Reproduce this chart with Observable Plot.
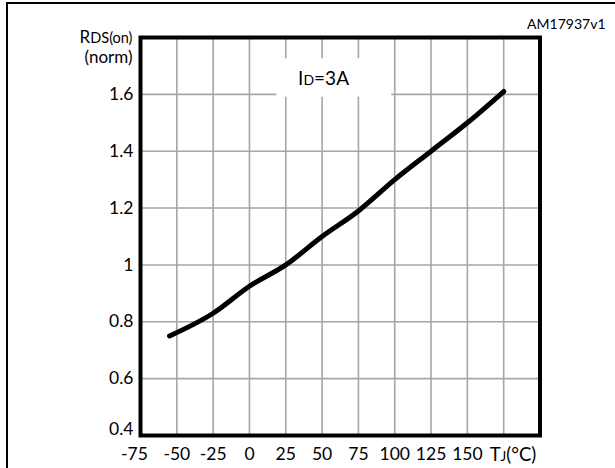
<!DOCTYPE html>
<html>
<head>
<meta charset="utf-8">
<script src="https://cdn.jsdelivr.net/npm/d3@7"></script>
<script src="https://cdn.jsdelivr.net/npm/@observablehq/plot@0.6"></script>
<style>
  html, body { margin: 0; padding: 0; background: #fff; }
  #wrap { position: relative; width: 615px; height: 468px; overflow: hidden; }
  #edge { position: absolute; left: 6px; top: 2px; right: -10px; bottom: -10px;
          border-left: 2px solid #000; border-top: 2px solid #000; pointer-events: none; }
  #wrap svg { position: absolute; left: 0; top: 0; overflow: visible; }
</style>
</head>
<body>
<div id="wrap"><div id="edge"></div></div>
<script>
// Normalized on-resistance vs junction temperature
const junctionTemp = [-55, -25, 0, 25, 50, 75, 100, 125, 150, 175];
const rdsOnNorm    = [0.75, 0.83, 0.925, 1.0, 1.1, 1.19, 1.3, 1.4, 1.5, 1.61];

const xTicks = [-75, -50, -25, 0, 25, 50, 75, 100, 125, 150];
const xGrid  = [-50, -25, 0, 25, 50, 75, 100, 125, 150, 175];
const yTicks = [0.4, 0.6, 0.8, 1, 1.2, 1.4, 1.6];
const yGrid  = [0.6, 0.8, 1, 1.2, 1.4, 1.6];

const xDomain = [-75, 200];
const yDomain = [0.4, 1.8];

// Condition label and the white patch behind it
const conditionLabel = "ID=3A";
const conditionAt = {x: 51, y: 1.655};
const conditionBox = [{x1: 19, x2: 98, y1: 1.59, y2: 1.725}];
const figureId = "AM17937v1";
const xTitle = "TJ(°C)";
const yTitle = "RDS(on)\n(norm)";

const curve = junctionTemp.map((t, i) => ({t, r: rdsOnNorm[i]}));
const plain = d => String(d); // hyphen minus, "1" not "1.0"
const tickFont = 17.5;

const svg = Plot.plot({
  width: 615,
  height: 468,
  marginLeft: 140,
  marginRight: 75.5,
  marginTop: 37,
  marginBottom: 33,
  style: {fontFamily: "Lato, 'Open Sans', sans-serif", fontSize: "17px", color: "#000", background: "transparent"},
  x: {domain: xDomain},
  y: {domain: yDomain},
  marks: [
    Plot.ruleX(xGrid, {stroke: "#a6a6a6", strokeWidth: 1.6}),
    Plot.ruleY(yGrid, {stroke: "#a6a6a6", strokeWidth: 1.6}),
    Plot.rect(conditionBox, {x1: "x1", x2: "x2", y1: "y1", y2: "y2", fill: "#fff"}),
    Plot.text([conditionLabel], {x: conditionAt.x, y: conditionAt.y, fontSize: 19, fill: "#000"}),
    Plot.line(curve, {x: "t", y: "r", stroke: "#000", strokeWidth: 5, curve: "monotone-x", strokeLinejoin: "round"}),
    Plot.frame({stroke: "#000", strokeWidth: 4}),
    // y axis labels (the lowest one lifted clear of the x labels)
    Plot.axisY(yTicks.slice(1), {tickSize: 0, tickPadding: 7, fontSize: tickFont, label: null, tickFormat: plain}),
    Plot.axisY(yTicks.slice(0, 1), {tickSize: 0, tickPadding: 7, fontSize: tickFont, label: null, dy: -6, tickFormat: plain}),
    // x axis labels
    Plot.axisX(xTicks.slice(1), {tickSize: 0, tickPadding: 12, fontSize: tickFont, label: null, tickFormat: plain}),
    Plot.axisX(xTicks.slice(0, 1), {tickSize: 0, tickPadding: 12, fontSize: tickFont, label: null, dx: -6, tickFormat: plain}),
    // axis titles
    Plot.text([xTitle], {x: 175, frameAnchor: "bottom", dy: 12, dx: -14, lineAnchor: "top", textAnchor: "start", fontSize: 18.5}),
    Plot.text([yTitle], {frameAnchor: "top-left", dx: -8, dy: -9, textAnchor: "end", lineAnchor: "top", lineHeight: 1.2, fontSize: 17}),
    Plot.text([figureId], {frameAnchor: "top-right", dx: 65.5, dy: -13, textAnchor: "end", lineAnchor: "middle", fontSize: 14})
  ]
});

// Small-cap subscripts inside the labels
const rich = {
  "ID=3A":  [["I", null], ["D", 14], ["=3A", null]],
  "RDS(on)": [["R", null], ["DS(on)", 14.5]],
  "TJ(°C)": [["T", null], ["J", 13.5], ["(°C)", null]]
};
d3.select(svg).selectAll("text, tspan").each(function () {
  if (this.children.length) return;
  const parts = rich[this.textContent];
  if (!parts) return;
  const sel = d3.select(this).text(null);
  for (const [s, size] of parts) {
    const ts = sel.append("tspan").text(s);
    if (size) ts.attr("font-size", size);
  }
});

document.getElementById("wrap").appendChild(svg);
</script>
</body>
</html>
